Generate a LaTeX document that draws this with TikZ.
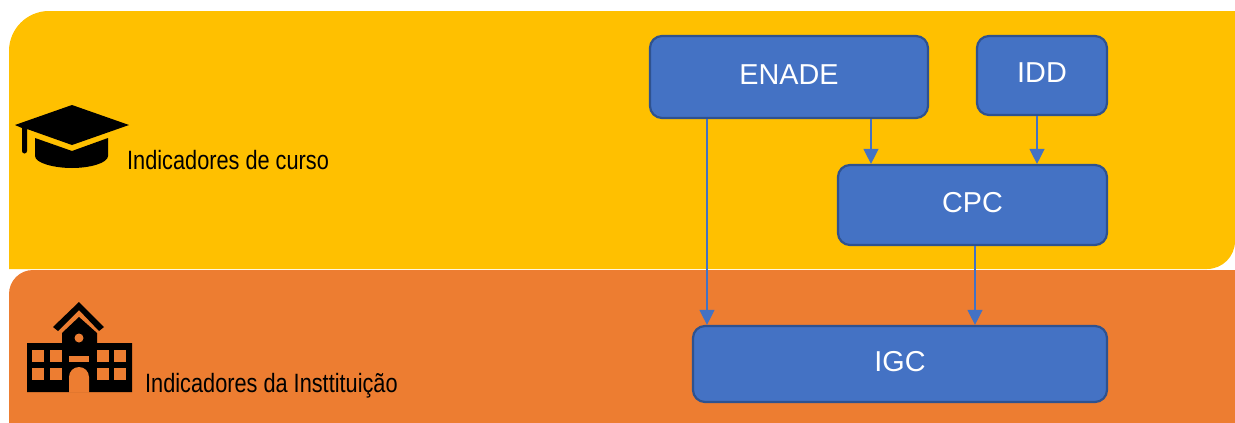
\documentclass[tikz,border=0pt]{standalone}
\usepackage{fontspec}
\usepackage{graphicx}
\setmainfont{Liberation Sans}
\usetikzlibrary{arrows.meta}
\definecolor{cursoYellow}{HTML}{FFC000}
\definecolor{instOrange}{HTML}{ED7D31}
\definecolor{boxBlue}{HTML}{4472C4}
\definecolor{boxEdge}{HTML}{2F528F}
\tikzset{
    indicator/.style={draw=boxEdge, fill=boxBlue, line width=2.2pt, rounded corners=12pt, text=white, inner sep=0pt, text depth=5pt, font=\fontsize{28.8}{32}\selectfont},
    flow/.style={draw=boxBlue, line width=1.3pt, -{Triangle[length=15pt,width=15pt]}},
    flowlabel/.style={anchor=base west, inner sep=0pt, text=black, font=\fontsize{26.5}{30}\selectfont}
}

\begin{document}
\begin{tikzpicture}[x=1pt, y=-1pt]
                \useasboundingbox (0, 0) rectangle (1235, 423);
                % panels
                \fill[cursoYellow] (9, 51) arc[start angle=180, end angle=270, radius=40] -- (1235, 11) -- (1235, 241) arc[start angle=0, end angle=90, radius=28] -- (9, 269) -- cycle;
                \fill[instOrange] (9, 294) arc[start angle=180, end angle=270, radius=24] -- (1235, 270) -- (1235, 423) -- (9, 423) -- cycle;
                % boxes
                \node[indicator, minimum width=278pt, minimum height=82pt] (enade) at (789, 77) {ENADE};
                \node[indicator, minimum width=130pt, minimum height=79pt] (idd) at (1042, 75.5) {IDD};
                \node[indicator, minimum width=269pt, minimum height=80pt] (cpc) at (972.5, 205) {CPC};
                \node[indicator, minimum width=414pt, minimum height=76pt] (igc) at (900, 364) {IGC};
                % connectors
                \coordinate (enadeIgc) at (707, 0);
                \coordinate (enadeCpc) at (871, 0);
                \coordinate (iddCpc) at (1037, 0);
                \coordinate (cpcIgc) at (975, 0);
                \draw[flow] (enade.south -| enadeIgc) -- (igc.north -| enadeIgc);
                \draw[flow] (enade.south -| enadeCpc) -- (cpc.north -| enadeCpc);
                \draw[flow] (idd.south -| iddCpc) -- (cpc.north -| iddCpc);
                \draw[flow] (cpc.south -| cpcIgc) -- (igc.north -| cpcIgc);
                % cap icon
                \fill (72, 105) -- (129, 125) -- (72, 145) -- (27, 129) -- (27, 151) arc[start angle=0, end angle=180, radius=2.5] -- (22, 128) -- (15, 125) -- cycle;
                \fill (35, 138) -- (72, 151) -- (108, 138) -- (108, 156) .. controls (108, 163) and (90, 168) .. (72, 168) .. controls (54, 168) and (35, 163) .. (35, 156) -- cycle;
                % school icon
                \fill (79, 302) -- (104, 327) -- (99, 331) -- (79, 310) -- (58, 331) -- (53, 327) -- cycle;
                \fill (79, 317) -- (97, 333) -- (97, 343) -- (132, 343) -- (132, 392) -- (27, 392) -- (27, 343) -- (62, 343) -- (62, 333) -- cycle;
                \fill[instOrange] (79, 338) circle[radius=4.5];
                \fill[instOrange] (69, 356) rectangle (89, 362);
                \fill[instOrange] (69, 392.5) -- (69, 377) arc[start angle=180, end angle=360, radius=10] -- (89, 392.5) -- cycle;
                \foreach \x in {32, 50, 97, 114}
                    \foreach \y in {350, 368}
                        \fill[instOrange] (\x, \y) rectangle (\x + 12, \y + 11.5);
                % labels
                \node[flowlabel] (curso) at (127, 169) {\scalebox{0.82}[1]{Indicadores de curso}};
                \node[flowlabel] (inst) at (145, 392.5) {\scalebox{0.82}[1]{Indicadores da Insttituição}};
            \end{tikzpicture}
\end{document}
